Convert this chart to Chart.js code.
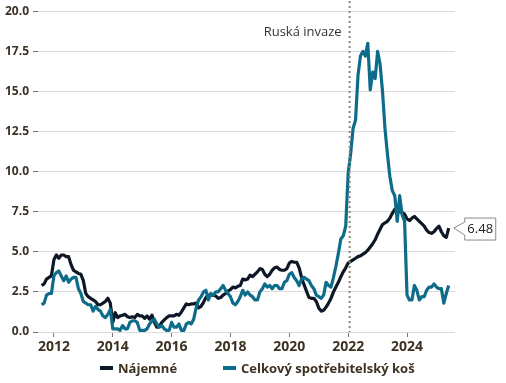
<!DOCTYPE html>
<html>
<head>
<meta charset="utf-8">
<script src="https://cdn.jsdelivr.net/npm/chart.js@4.4.1/dist/chart.umd.min.js"></script>
<style>
  html, body { margin: 0; padding: 0; background: #fff; }
  #wrap { position: relative; width: 506px; height: 383px; }
  #legend { position: absolute; left: 100px; top: 359px; display: flex; align-items: center;
    font: bold 13px 'Open Sans', sans-serif; color: #3d3122; line-height: 18px; }
  #legend .item { display: flex; align-items: center; }
  #legend .item i { display: inline-block; width: 13px; height: 4px; margin-right: 5px; }
</style>
</head>
<body>
<div id="wrap">
  <canvas id="myChart"></canvas>
  <div id="legend">
    <span class="item"><i style="background:#0e1726"></i>Nájemné</span>
    <span class="item" style="margin-left:46px"><i style="background:#0e6c8b"></i>Celkový spotřebitelský koš</span>
  </div>
</div>
<script>
// monthly series, first value = August 2011
const startYear = 2011
const startMonth = 8

const rentValues = [
    2.9, 3.0, 3.3, 3.4, 3.5,
    4.5, 4.8, 4.6, 4.8, 4.8, 4.7, 4.7, 4.2, 3.85, 3.75, 3.65, 3.6,
    3.2, 2.4, 2.2, 2.1, 2.0, 1.9, 1.7, 1.7, 1.8, 1.9, 2.1, 1.8,
    0.6, 1.2, 0.9, 1.0, 1.05, 1.1, 0.95, 0.9, 0.95, 0.9, 1.1, 1.0,
    1.0, 0.85, 1.0, 0.8, 1.05, 0.6, 0.3, 0.35, 0.6, 0.75, 0.9, 1.0,
    1.0, 1.0, 1.1, 1.05, 1.25, 1.5, 1.75, 1.7, 1.75, 1.75, 1.8, 1.5,
    1.6, 1.85, 2.15, 2.3, 2.3, 2.3, 2.25, 2.1, 2.15, 2.3, 2.4, 2.55,
    2.65, 2.8, 2.75, 2.85, 2.9, 3.3, 3.25, 3.3, 3.55, 3.45, 3.6, 3.75,
    3.95, 3.9, 3.6, 3.45, 3.6, 3.85, 4.0, 4.05, 3.9, 3.85, 3.85, 3.95,
    4.3, 4.4, 4.35, 4.35, 4.0, 3.4, 2.95, 2.55, 2.15, 2.1, 2.1, 1.9,
    1.5, 1.3, 1.35, 1.55, 1.8, 2.1, 2.5, 2.8, 3.1, 3.45, 3.75, 4.0,
    4.3, 4.4, 4.5, 4.6, 4.7, 4.75, 4.85, 4.95, 5.1, 5.3, 5.5, 5.75,
    6.1, 6.4, 6.7, 6.8, 6.9, 7.1, 7.4, 7.65, 7.7, 7.5, 7.45, 7.35,
    7.05, 6.95, 7.1, 7.2, 7.05, 6.9, 6.75, 6.6, 6.35, 6.2, 6.15, 6.25,
    6.45, 6.6, 6.25, 6.0, 5.9, 6.48
]

const cpiValues = [
    1.7, 1.8, 2.3, 2.4, 2.4,
    3.5, 3.7, 3.8, 3.5, 3.2, 3.5, 3.1, 3.3, 3.4, 3.4, 2.7, 2.4,
    1.9, 1.8, 1.7, 1.7, 1.3, 1.6, 1.4, 1.3, 1.0, 0.9, 1.1, 1.4,
    0.2, 0.2, 0.2, 0.1, 0.4, 0.2, 0.2, 0.6, 0.7, 0.7, 0.6, 0.1,
    0.1, 0.1, 0.2, 0.5, 0.7, 0.8, 0.5, 0.3, 0.4, 0.2, 0.1, 0.1,
    0.6, 0.3, 0.3, 0.5, 0.1, 0.1, 0.5, 0.6, 0.5, 0.8, 1.5, 2.0,
    2.2, 2.5, 2.6, 2.0, 2.4, 2.3, 2.5, 2.5, 2.7, 2.9, 2.6, 2.4,
    2.2, 1.8, 1.7, 1.9, 2.2, 2.6, 2.3, 2.5, 2.3, 2.2, 2.0, 2.0,
    2.5, 2.7, 3.0, 2.8, 2.9, 2.7, 2.9, 2.9, 2.7, 2.7, 3.1, 3.2,
    3.6, 3.7, 3.4, 3.2, 2.9, 3.3, 3.4, 3.3, 3.2, 2.9, 2.7, 2.3,
    2.2, 2.1, 2.3, 3.1, 2.9, 2.8, 3.4, 4.1, 4.9, 5.8, 6.0, 6.6,
    9.9, 11.1, 12.7, 13.2, 16.0, 17.2, 17.5, 17.2, 18.0, 15.1, 16.2, 15.8,
    17.5, 16.7, 15.0, 12.7, 11.1, 9.7, 8.8, 8.5, 6.9, 8.5, 7.3, 6.9,
    2.3, 2.0, 2.0, 2.9, 2.6, 2.0, 2.2, 2.2, 2.6, 2.8, 2.8, 3.0,
    2.8, 2.7, 2.7, 1.8, 2.4, 2.9
]

const xTickYears = [2012, 2014, 2016, 2018, 2020, 2022, 2024]
const yTickValues = [0, 2.5, 5, 7.5, 10, 12.5, 15, 17.5, 20]
const invasionYear = 2022.05
const invasionLabel = 'Ruská invaze'

const textColor = '#3d3122'
const rentColor = '#0e1726'
const cpiColor = '#0e6c8b'

const toPoints = (values) => values.map((v, i) => ({ x: startYear + (startMonth - 1 + i) / 12, y: v }))

const annotations = {
    id: 'annotations',
    afterDatasetsDraw(chart) {
        const { ctx, chartArea, scales } = chart
        const x = scales.x.getPixelForValue(invasionYear)
        ctx.save()
        ctx.strokeStyle = '#8c8475'
        ctx.lineWidth = 2
        ctx.setLineDash([2, 3])
        ctx.beginPath()
        ctx.moveTo(x, 1)
        ctx.lineTo(x, chartArea.bottom)
        ctx.stroke()
        ctx.setLineDash([])

        ctx.fillStyle = '#333'
        ctx.font = '13px "Open Sans", sans-serif'
        ctx.textAlign = 'right'
        ctx.textBaseline = 'middle'
        ctx.fillText(invasionLabel, x - 8, scales.y.getPixelForValue(18.7))

        // callout with the last rent value
        const meta = chart.getDatasetMeta(0)
        const last = meta.data[meta.data.length - 1]
        const tx = last.x + 5
        const ty = last.y
        const bx = tx + 11
        const bw = 31
        const top = ty - 10
        const bottom = ty + 12
        ctx.beginPath()
        ctx.moveTo(tx, ty)
        ctx.lineTo(bx, ty - 6)
        ctx.lineTo(bx, top)
        ctx.lineTo(bx + bw, top)
        ctx.lineTo(bx + bw, bottom)
        ctx.lineTo(bx, bottom)
        ctx.lineTo(bx, ty + 7)
        ctx.closePath()
        ctx.fillStyle = '#fff'
        ctx.fill()
        ctx.strokeStyle = '#8a8a8a'
        ctx.lineWidth = 1
        ctx.stroke()
        ctx.fillStyle = '#222'
        ctx.textAlign = 'center'
        ctx.fillText(rentValues[rentValues.length - 1].toFixed(2), bx + bw / 2, (top + bottom) / 2 + 0.5)
        ctx.restore()
    }
}

window.addEventListener('DOMContentLoaded', () => {
    const ctx = document.getElementById('myChart')
    const cfg = {
        type: 'line',
        data: {
            datasets: [
                {
                    label: 'Nájemné',
                    data: toPoints(rentValues),
                    borderColor: rentColor,
                    backgroundColor: rentColor,
                    borderWidth: 3.2,
                    pointRadius: 0,
                    borderJoinStyle: 'round',
                    order: 2
                },
                {
                    label: 'Celkový spotřebitelský koš',
                    data: toPoints(cpiValues),
                    borderColor: cpiColor,
                    backgroundColor: cpiColor,
                    borderWidth: 3.2,
                    pointRadius: 0,
                    borderJoinStyle: 'round',
                    order: 1
                }
            ]
        },
        options: {
            responsive: true,
            maintainAspectRatio: false,
            animation: false,
            layout: { padding: { top: 11, right: 51, bottom: 26, left: 0 } },
            plugins: {
                legend: { display: false },
                tooltip: { enabled: false }
            },
            scales: {
                x: {
                    type: 'linear',
                    min: 2011.46,
                    max: 2025.63,
                    border: { display: false },
                    grid: { drawOnChartArea: false, drawTicks: true, tickLength: 5, tickColor: '#777' },
                    afterBuildTicks: (scale) => { scale.ticks = xTickYears.map(v => ({ value: v })) },
                    afterFit: (scale) => { scale.height = 25 },
                    ticks: {
                        padding: 2,
                        color: textColor,
                        font: { family: 'Open Sans', size: 14, weight: 'bold' },
                        callback: (v) => String(v)
                    }
                },
                y: {
                    min: 0,
                    max: 20,
                    border: { display: false },
                    grid: { color: '#dcdcdc', lineWidth: 1, tickLength: 5, tickColor: '#777' },
                    afterBuildTicks: (scale) => { scale.ticks = yTickValues.map(v => ({ value: v })) },
                    afterFit: (scale) => { scale.width = 38 },
                    ticks: {
                        padding: 4,
                        color: textColor,
                        font: { family: 'Open Sans', size: 12, weight: 'bold' },
                        callback: (v) => v.toFixed(1)
                    }
                }
            }
        },
        plugins: [annotations]
    }
    new Chart(ctx, cfg)
})
</script>
</body>
</html>
